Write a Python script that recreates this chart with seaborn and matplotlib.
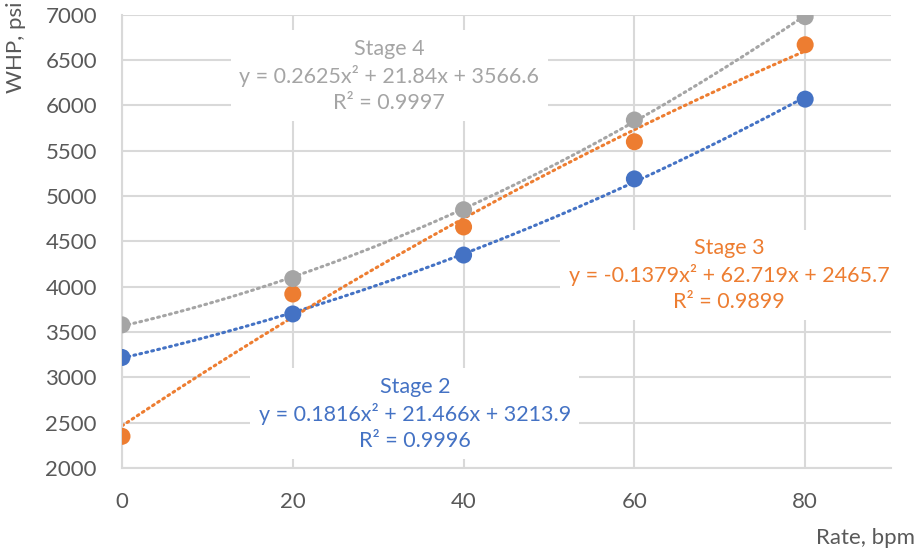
import numpy as np
import pandas as pd
import matplotlib
matplotlib.use("Agg")
import matplotlib.pyplot as plt
import seaborn as sns

# data
rate = [0, 20, 40, 60, 80]
stage2 = [3220, 3700, 4350, 5190, 6070]
stage3 = [2350, 3920, 4660, 5600, 6670]
stage4 = [3580, 4090, 4850, 5840, 6980]

# trendline coefficients as printed on the chart (a, b, c)
coef2 = [0.1816, 21.466, 3213.9]
coef3 = [-0.1379, 62.719, 2465.7]
coef4 = [0.2625, 21.84, 3566.6]
labels = ["Stage 2\ny = 0.1816x² + 21.466x + 3213.9\nR² = 0.9996",
          "Stage 3\ny = -0.1379x² + 62.719x + 2465.7\nR² = 0.9899",
          "Stage 4\ny = 0.2625x² + 21.84x + 3566.6\nR² = 0.9997"]

colors = ["#4472C4", "#ED7D31", "#A5A5A5"]
gridc = "#D9D9D9"
textc = "#595959"

sns.set_theme(style="whitegrid")
plt.rcParams['font.family'] = ['Lato', 'DejaVu Sans']

df = pd.DataFrame({"rate": rate * 3,
                   "whp": stage2 + stage3 + stage4,
                   "stage": ["Stage 2"] * 5 + ["Stage 3"] * 5 + ["Stage 4"] * 5})

fig = plt.figure(figsize=(9.2, 5.5), dpi=100)
ax = fig.add_axes([0.1326, 0.149, 0.8354, 0.824])

xs = np.linspace(rate[0], rate[-1], 200)
for coef, c in zip([coef2, coef3, coef4], colors):
    sns.lineplot(x=xs, y=np.polyval(coef, xs), ax=ax, color=c, lw=2.2,
                 linestyle=(0, (0.6, 1.4)), dash_capstyle="round", zorder=2)

sns.scatterplot(data=df, x="rate", y="whp", hue="stage", palette=colors,
                s=150, edgecolor="none", ax=ax, legend=False, zorder=3)

ax.set_xlim(0, 90)
ax.set_ylim(2000, 7000)
ax.set_xticks([0, 20, 40, 60, 80])
ax.set_yticks(np.arange(2000, 7001, 500))
ax.grid(True, color=gridc, lw=1.5)
ax.set_axisbelow(True)
for s in ["top", "right"]:
    ax.spines[s].set_visible(False)
for s in ["left", "bottom"]:
    ax.spines[s].set_color(gridc)
    ax.spines[s].set_linewidth(1.5)
ax.tick_params(axis="both", length=0, labelsize=16, labelcolor=textc)
ax.tick_params(axis="y", pad=18)
ax.tick_params(axis="x", pad=17)
ax.set_xlabel("")
ax.set_ylabel("")

# trendline labels
pos = [(34.3, 2600), (71.1, 4130), (31.3, 6330)]
for (x, y), txt, c in zip(pos, labels, colors):
    ax.text(x, y, txt, color=c, fontsize=15.5, ha="center", va="center",
            linespacing=1.35, zorder=1,
            bbox=dict(facecolor="white", edgecolor="none", pad=6))

fig.text(0.995, 0.004, "Rate, bpm", color=textc, fontsize=16,
         ha="right", va="bottom")
fig.text(0.017, 0.998, "WHP, psi", color=textc, fontsize=16,
         rotation=90, ha="center", va="top")

fig.savefig("out.png", dpi=100)
